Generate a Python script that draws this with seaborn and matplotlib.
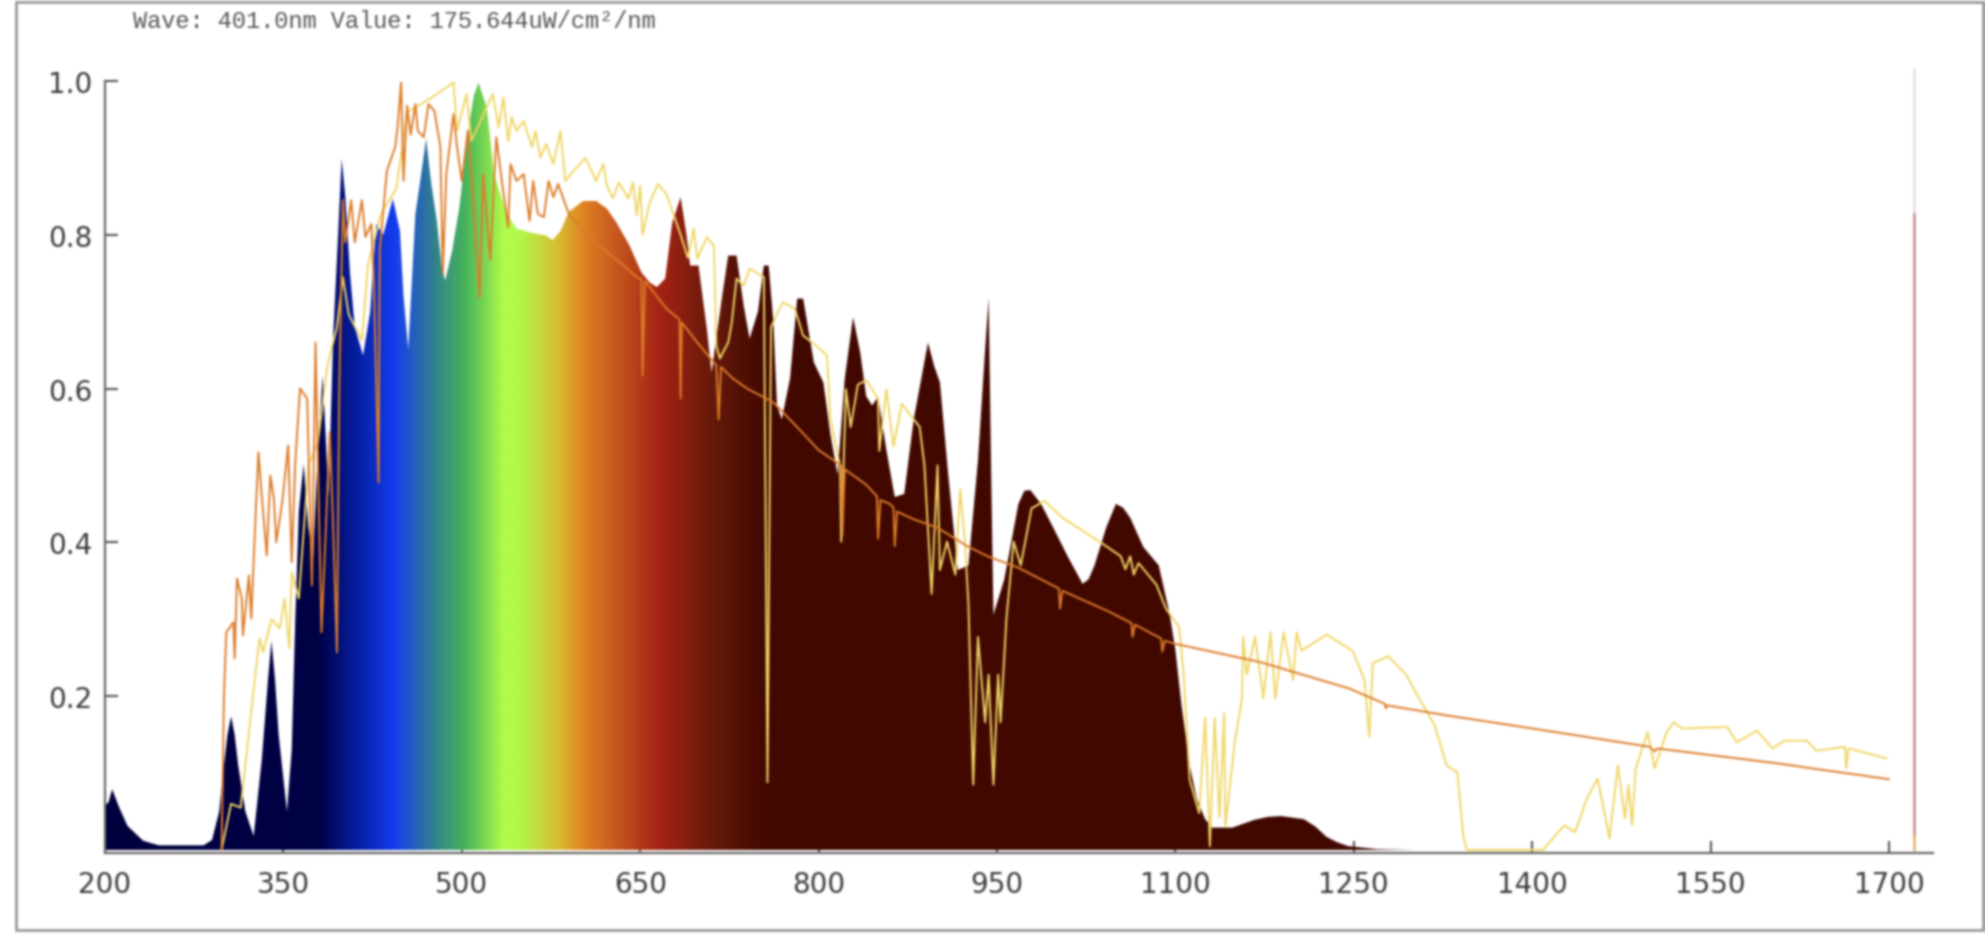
import numpy as np
import matplotlib
matplotlib.use("Agg")
import matplotlib.pyplot as plt
import seaborn as sns
from matplotlib.colors import LinearSegmentedColormap
from matplotlib.patches import Rectangle
from PIL import Image, ImageFilter

# measured LED spectrum (the filled shape)
spec_nm = [200, 203, 206, 212, 219, 232, 245, 265, 283, 290,
           296, 300, 303, 306, 309, 312, 318, 325, 332, 337,
           340, 343, 346, 353, 357, 360, 363, 367, 371, 375,
           379, 383, 388, 392, 396, 399, 402, 406, 410, 417,
           423, 428, 434, 442, 448, 451, 455, 461, 466, 470,
           474, 479, 483, 486, 492, 498, 505, 510, 514, 521,
           527, 533, 538, 546, 560, 571, 576, 583, 590, 602,
           613, 622, 630, 641, 651, 658, 664, 671, 677, 684,
           689, 692, 699, 706, 710, 719, 724, 731, 737, 742,
           749, 754, 758, 762, 765, 769, 776, 782, 787, 796,
           804, 810, 816, 822, 829, 835, 840, 845, 850, 857,
           864, 872, 880, 892, 897, 902, 909, 917, 926, 934,
           940, 943, 945, 947, 956, 962, 968, 973, 978, 987,
           997, 1010, 1022, 1027, 1032, 1042, 1050, 1056, 1062, 1073,
           1086, 1095, 1100, 1105, 1112, 1118, 1125, 1131, 1148, 1166,
           1178, 1189, 1208, 1218, 1227, 1236, 1245, 1270, 1300, 1700]
spec_val = [.058, .062, .079, .055, .031, .012, .006, .006, .006, .013,
            .05, .11, .15, .174, .15, .11, .05, .018, .12, .22,
            .272, .22, .15, .05, .13, .30, .44, .502, .42, .38,
            .52, .617, .46, .673, .80, .899, .85, .75, .68, .643,
            .70, .814, .80, .847, .805, .72, .651, .827, .88, .925,
            .87, .818, .76, .74, .78, .836, .93, .98, .998, .966,
            .88, .85, .827, .808, .802, .799, .793, .805, .83, .844,
            .844, .834, .816, .786, .751, .738, .732, .743, .816, .849,
            .799, .76, .76, .678, .621, .721, .773, .773, .708, .665,
            .70, .76, .76, .686, .578, .56, .613, .717, .717, .634,
            .608, .54, .488, .613, .693, .647, .59, .578, .589, .52,
            .459, .463, .56, .66, .63, .608, .488, .364, .37, .506,
            .65, .718, .50, .306, .351, .40, .45, .467, .468, .45,
            .42, .38, .346, .352, .37, .42, .45, .445, .432, .394,
            .37, .308, .26, .19, .11, .066, .04, .029, .029, .039,
            .043, .044, .04, .03, .017, .01, .005, .001, 0, 0]

# reference curve, noisy in the blue, smooth after 600nm
orange_nm = [298, 300, 302, 308, 309, 311, 315, 316, 321, 323,
             326, 329, 332, 336, 339, 342, 344, 349, 354, 357,
             360, 364, 370, 374, 377, 382, 385, 389, 392, 395,
             397, 400, 402, 407, 410, 416, 419, 424, 426, 430,
             431, 437, 444, 446, 449, 451, 454, 457, 461, 463,
             468, 472, 477, 482, 484, 487, 493, 496, 500, 505,
             508, 515, 518, 524, 529, 534, 539, 541, 546, 552,
             557, 560, 564, 569, 573, 577, 581, 590, 605, 620,
             633, 647, 651, 652, 654, 672, 683, 684, 685, 698,
             714, 716, 718, 728, 740, 762, 785, 800, 819, 820,
             822, 840, 849, 850, 852, 860, 863, 864, 866, 880,
             900, 925, 942, 968, 1002, 1003, 1005, 1044, 1063, 1064,
             1066, 1082, 1088, 1089, 1091, 1100, 1172, 1246, 1276, 1277,
             1278, 1328, 1400, 1499, 1503, 1505, 1609, 1640, 1700]
orange_val = [0, .197, .283, .296, .249, .353, .327, .279, .357, .301,
              .413, .517, .457, .383, .487, .457, .40, .452, .526, .374,
              .504, .60, .587, .344, .66, .283, .392, .543, .413, .257,
              .60, .845, .79, .845, .79, .845, .797, .814, .74, .478,
              .78, .883, .914, .94, .998, .87, .968, .93, .97, .935,
              .927, .97, .961, .914, .749, .879, .957, .914, .87, .935,
              .883, .719, .879, .767, .927, .866, .81, .892, .87, .879,
              .818, .87, .827, .823, .87, .849, .866, .827, .80, .78,
              .764, .745, .742, .617, .74, .704, .69, .587, .686, .66,
              .63, .56, .628, .613, .60, .582, .545, .52, .50, .41,
              .495, .475, .46, .405, .455, .45, .445, .395, .44, .43,
              .419, .395, .382, .367, .34, .314, .337, .31, .295, .277,
              .293, .28, .275, .258, .272, .268, .244, .21, .19, .184,
              .188, .175, .158, .134, .128, .132, .112, .105, .092]

# pale yellow curve
yellow_nm = [298, 306, 314, 320, 326, 330, 333, 340, 347, 351,
             355, 357, 363, 371, 379, 387, 395, 400, 405, 416,
             421, 432, 445, 454, 470, 479, 493, 496, 504, 508,
             526, 531, 535, 539, 542, 546, 552, 559, 562, 566,
             571, 577, 583, 587, 594, 604, 613, 619, 622, 627,
             632, 640, 644, 647, 650, 652, 658, 665, 672, 684,
             690, 695, 698, 706, 712, 714, 717, 724, 727, 731,
             737, 742, 754, 757, 760, 766, 770, 780, 787, 798,
             807, 810, 818, 819, 823, 827, 833, 840, 850, 851,
             857, 863, 870, 885, 889, 895, 900, 902, 908, 915,
             919, 923, 926, 930, 934, 940, 943, 947, 951, 953,
             958, 964, 970, 979, 990, 1005, 1039, 1054, 1058, 1062,
             1065, 1069, 1084, 1092, 1103, 1107, 1112, 1120, 1125, 1129,
             1133, 1137, 1141, 1142, 1150, 1156, 1157, 1160, 1167, 1174,
             1180, 1184, 1191, 1199, 1202, 1206, 1227, 1249, 1259, 1263,
             1266, 1279, 1294, 1302, 1318, 1328, 1337, 1342, 1345, 1409,
             1427, 1436, 1446, 1455, 1465, 1472, 1478, 1481, 1484, 1487,
             1497, 1503, 1513, 1519, 1526, 1564, 1572, 1589, 1602, 1612,
             1631, 1639, 1663, 1664, 1666, 1698]
yellow_val = [0, .06, .055, .138, .223, .275, .257, .30, .288, .327,
              .262, .361, .327, .50, .53, .63, .68, .745, .696, .663,
              .76, .827, .86, .96, .974, .983, .998, .935, .983, .922,
              .983, .94, .979, .922, .953, .935, .948, .914, .935, .90,
              .918, .892, .935, .87, .883, .90, .87, .892, .864, .847,
              .868, .847, .868, .825, .864, .80, .842, .866, .853, .80,
              .77, .808, .769, .797, .786, .656, .639, .66, .686, .743,
              .734, .756, .745, .088, .68, .70, .712, .704, .669, .656,
              .643, .56, .50, .401, .599, .55, .605, .611, .587, .519,
              .599, .525, .58, .55, .50, .333, .50, .364, .401, .358,
              .469, .401, .32, .085, .277, .166, .228, .085, .228, .166,
              .302, .401, .37, .444, .454, .432, .398, .382, .365, .382,
              .358, .373, .345, .314, .29, .228, .091, .048, .172, .005,
              .172, .042, .178, .03, .141, .197, .277, .228, .277, .197,
              .283, .197, .283, .221, .283, .259, .28, .259, .221, .147,
              .243, .252, .228, .205, .162, .11, .101, .019, 0, 0,
              .032, .023, .067, .093, .015, .11, .041, .084, .032, .106,
              .153, .106, .153, .166, .158, .16, .14, .155, .132, .142,
              .142, .129, .134, .106, .132, .119]

# colour of the spectrum by wavelength
stop_nm = [200, 378, 410, 442, 476, 502, 534, 545, 580, 601, 627, 665, 712, 755, 1700]
stop_rgb = [(0, 0, 60), (0, 0, 70), (5, 30, 160), (20, 60, 240), (50, 130, 140), (70, 180, 90), (175, 250, 75), (175, 250, 75),
            (215, 190, 50), (225, 130, 35), (200, 90, 30), (165, 35, 20), (100, 25, 10), (65, 8, 0), (65, 8, 0)]

x_ticks = [200, 350, 500, 650, 800, 950, 1100, 1250, 1400, 1550, 1700]
y_ticks = [0.2, 0.4, 0.6, 0.8, 1.0]
marker_nm = 1721

sns.set_theme(style="white")
W, H = 1985, 945
fig = plt.figure(figsize=(W / 100, H / 100), dpi=100)
ax = fig.add_axes([105 / W, (H - 854) / H, (1933 - 105) / W, (854 - 82) / H])

# gradient image clipped by the spectrum outline
fill = ax.fill_between(spec_nm, spec_val, 0, facecolor="none", edgecolor="none")
pos = [(n - 200) / 1500 for n in stop_nm]
cols = [(r / 255, g / 255, b / 255) for r, g, b in stop_rgb]
cmap = LinearSegmentedColormap.from_list("spec", list(zip(pos, cols)), N=512)
grad = np.linspace(0, 1, 1500).reshape(1, -1)
im = ax.imshow(grad, cmap=cmap, vmin=0, vmax=1, extent=[200, 1700, 0, 1], aspect="auto", zorder=1, interpolation="bilinear")
im.set_clip_path(fill.get_paths()[0], transform=ax.transData)

sns.lineplot(x=yellow_nm, y=yellow_val, sort=False, estimator=None, color="#f0d666", lw=1.4, ax=ax, zorder=3)
sns.lineplot(x=orange_nm, y=orange_val, sort=False, estimator=None, color="#dc7c2a", lw=1.4, ax=ax, zorder=4)

ax.plot([marker_nm, marker_nm], [0.02, 0.83], color="#b98a88", lw=1.8, zorder=2)
ax.plot([marker_nm, marker_nm], [0, 0.02], color="#d8b460", lw=1.8, zorder=2)
ax.plot([marker_nm, marker_nm], [0.83, 1.015], color="#e6dcdc", lw=1.8, zorder=2, clip_on=False)

ax.set_xlim(200, 1737)
ax.set_ylim(-0.004, 1.0)
ax.set_xticks(x_ticks)
ax.set_yticks(y_ticks)
ax.set_yticklabels([f"{v:.1f}" for v in y_ticks])
ax.tick_params(axis="both", direction="in", length=9, width=1.5, color="#555555", labelsize=20, labelcolor="#3a3a3a", pad=12, left=True, bottom=True)
ax.tick_params(axis="y", pad=9)

sns.despine(ax=ax)
for side in ["left", "bottom"]:
    ax.spines[side].set_color("#666666")
    ax.spines[side].set_linewidth(1.6)
ax.patch.set_alpha(0)

fig.text(133 / W, 1 - 22 / H, "Wave: 401.0nm Value: 175.644uW/cm²/nm", family="Liberation Mono", fontsize=17, color="#555555", va="center", ha="left")
fig.patches.append(Rectangle((16 / W, (H - 931) / H), (1983 - 16) / W, (931 - 3) / H, transform=fig.transFigure, facecolor="none", edgecolor="#999999", lw=2))

fig.savefig("out.png", dpi=100)

# the source is a soft screenshot
Image.open("out.png").convert("RGB").filter(ImageFilter.GaussianBlur(1.1)).save("out.png")
